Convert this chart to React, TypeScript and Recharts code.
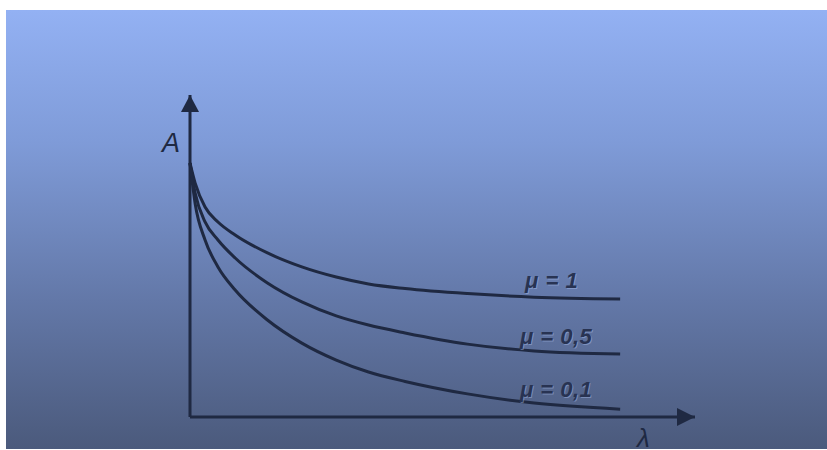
import React from 'react';
import { LineChart, Line, XAxis, YAxis, ReferenceDot, ReferenceLine } from 'recharts';

// λ values (shared by all curves)
const lambda = [0, 0.12, 0.35, 0.65, 1.05, 1.8, 2.6, 3.4, 4.15, 5, 6.45, 8, 10];
// A values for each μ
const mu1 = [1, 0.921, 0.827, 0.768, 0.717, 0.646, 0.591, 0.551, 0.524, 0.506, 0.486, 0.472, 0.465];
const mu05 = [1, 0.882, 0.768, 0.697, 0.626, 0.528, 0.453, 0.398, 0.362, 0.331, 0.287, 0.26, 0.248];
const mu01 = [1, 0.84, 0.697, 0.591, 0.5, 0.382, 0.291, 0.224, 0.177, 0.14, 0.091, 0.055, 0.031];
const seriesNames = ['μ = 1', 'μ = 0,5', 'μ = 0,1'];

const data = lambda.map((l, i) => ({ l, m1: mu1[i], m05: mu05[i], m01: mu01[i] }));

const X_MAX = 11.74;
const Y_MAX = 1.268;
const INK = '#1f2942';
const W = 821;
const H = 439;

const curveLabels = [
  { x: 7.79, y: 0.508, text: seriesNames[0] },
  { x: 7.67, y: 0.287, text: seriesNames[1] },
  { x: 7.67, y: 0.079, text: seriesNames[2] },
];

const CurveLabel = (text: string) => (props: any) => (
  <g>
    <text x={props.cx + 1} y={props.cy + 1} fill="rgba(170,190,235,0.45)" fontFamily="Liberation Sans, Arial, sans-serif" fontWeight="bold" fontStyle="italic" fontSize={22} letterSpacing={0.5}>{text}</text>
    <text x={props.cx} y={props.cy} fill="#283352" fontFamily="Liberation Sans, Arial, sans-serif" fontWeight="bold" fontStyle="italic" fontSize={22} letterSpacing={0.5}>{text}</text>
  </g>
);

const ArrowRight = (props: any) => (
  <path d={`M${props.cx},${props.cy} L${props.cx - 18},${props.cy - 9} L${props.cx - 18},${props.cy + 9} Z`} fill={INK} />
);
const ArrowUp = (props: any) => (
  <path d={`M${props.cx},${props.cy} L${props.cx - 9},${props.cy + 17} L${props.cx + 9},${props.cy + 17} Z`} fill={INK} />
);
const LetterA = (props: any) => (
  <text x={props.cx - 28} y={props.cy + 57} fill={INK} fontFamily="Liberation Sans, Arial, sans-serif" fontStyle="italic" fontSize={27}>A</text>
);
const LetterLambda = (props: any) => (
  <text x={props.cx - 58} y={props.cy + 30} fill={INK} fontFamily="Liberation Sans, Arial, sans-serif" fontStyle="italic" fontSize={26}>λ</text>
);

export default function App() {
  return (
    <div
      style={{
        position: 'absolute',
        left: 6,
        top: 10,
        width: W,
        height: H,
        background: 'linear-gradient(to bottom, #93b1f3 0%, #7f9bd8 30%, #6378a8 66%, #4b5a7c 100%)',
      }}
    >
      <LineChart width={W} height={H} data={data} margin={{ top: 85, right: 132, bottom: 32, left: 184 }}>
        <XAxis dataKey="l" type="number" domain={[0, X_MAX]} hide />
        <YAxis type="number" domain={[0, Y_MAX]} hide />
        <ReferenceLine x={0} stroke={INK} strokeWidth={3} />
        <ReferenceLine y={0} stroke={INK} strokeWidth={3} />
        <Line dataKey="m1" type="monotone" stroke={INK} strokeWidth={3} dot={false} isAnimationActive={false} />
        <Line dataKey="m05" type="monotone" stroke={INK} strokeWidth={3} dot={false} isAnimationActive={false} />
        <Line dataKey="m01" type="monotone" stroke={INK} strokeWidth={3} dot={false} isAnimationActive={false} />
        <ReferenceDot x={X_MAX} y={0} ifOverflow="visible" shape={ArrowRight} />
        <ReferenceDot x={0} y={Y_MAX} ifOverflow="visible" shape={ArrowUp} />
        <ReferenceDot x={0} y={Y_MAX} ifOverflow="visible" shape={LetterA} />
        <ReferenceDot x={X_MAX} y={0} ifOverflow="visible" shape={LetterLambda} />
        {curveLabels.map((c) => (
          <ReferenceDot key={c.text} x={c.x} y={c.y} ifOverflow="visible" shape={CurveLabel(c.text)} />
        ))}
      </LineChart>
    </div>
  );
}
